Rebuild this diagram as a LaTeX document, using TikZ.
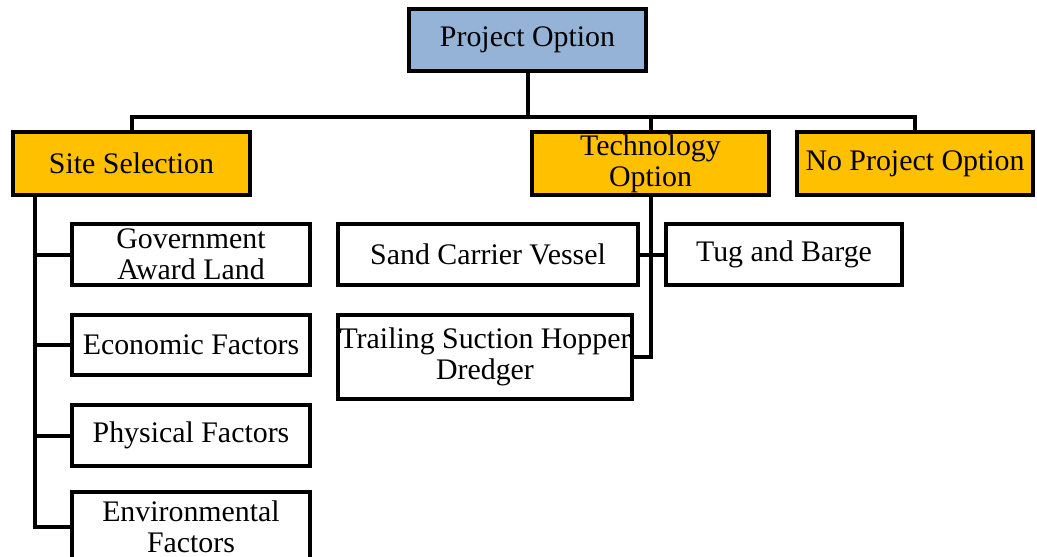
\documentclass[tikz,border=0pt]{standalone}
\usepackage{fontspec}
\setmainfont{Liberation Serif}
\usepackage{tikz}

\definecolor{topblue}{HTML}{95B3D7}
\definecolor{optgold}{HTML}{FFC000}

\tikzset{
  box/.style={draw=black, line width=0.08cm, inner sep=0pt, align=center,
    font=\fontsize{17pt}{17.5pt}\selectfont, minimum height=1.22cm},
  topbox/.style={box, fill=topblue, minimum height=1.24cm},
  optbox/.style={box, fill=optgold, minimum height=1.26cm},
  leafbox/.style={box, fill=white},
  conn/.style={draw=black, line width=0.08cm}
}

\begin{document}
\begin{tikzpicture}[x=0.02cm, y=-0.02cm]
                \useasboundingbox (0,0) rectangle (1037,557);

                \node[topbox, minimum width=4.74cm] (proj) at (527.5,40) {Project Option};

                \node[optbox, minimum width=4.74cm] (site) at (131.5,163.5) {Site Selection};
                \node[optbox, minimum width=4.74cm] (tech) at (650.5,163.5) {Technology\\Option};
                \node[optbox, minimum width=4.72cm] (noproj) at (915,163.5) {No Project Option};

                \node[leafbox, minimum width=4.76cm] (gov) at (191,254.5) {Government\\Award Land};
                \node[leafbox, minimum width=4.76cm] (econ) at (191,345) {Economic Factors};
                \node[leafbox, minimum width=4.76cm] (phys) at (191,435.5) {Physical Factors};
                \node[leafbox, minimum width=4.76cm, minimum height=1.4cm] (env) at (191,527) {Environmental\\Factors};

                \node[leafbox, minimum width=6.0cm] (sand) at (488,254.5) {Sand Carrier Vessel};
                \node[leafbox, minimum width=4.72cm] (tug) at (784,254.5) {Tug and Barge};
                \node[leafbox, minimum width=5.88cm, minimum height=1.68cm] (tshd) at (485,357) {Trailing Suction Hopper\\Dredger};

                \coordinate (bar) at (527.5,117);
                \coordinate (st) at (35,197);

                \draw[conn] (proj.south) -- (bar);
                \draw[conn] (site.north) |- (bar) -| (noproj.north);
                \draw[conn] (tech.north) -- (tech.north |- bar);

                \draw[conn] (st) |- (env.west);
                \draw[conn] (st |- gov.west) -- (gov.west);
                \draw[conn] (st |- econ.west) -- (econ.west);
                \draw[conn] (st |- phys.west) -- (phys.west);

                \draw[conn] (tech.south) |- (tshd.east);
                \draw[conn] (sand.east) -- (tug.west);
            \end{tikzpicture}
\end{document}
